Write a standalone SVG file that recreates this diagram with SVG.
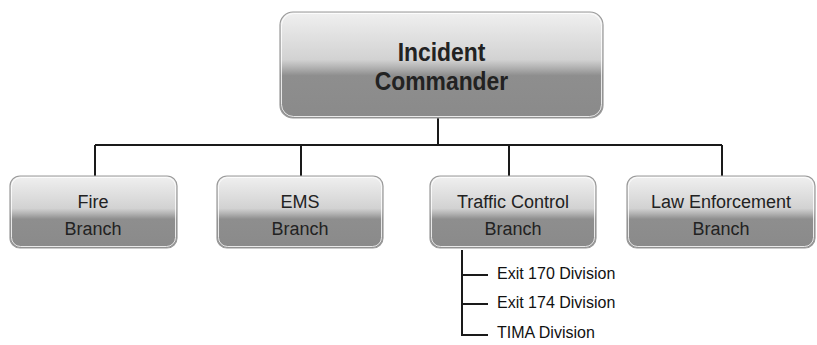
<svg xmlns="http://www.w3.org/2000/svg" width="817" height="345" viewBox="0 0 817 345">
<defs>
<linearGradient id="g" x1="0" y1="0" x2="0" y2="1">
<stop offset="0" stop-color="#f0f0f0"/>
<stop offset="0.45" stop-color="#d2d2d2"/>
<stop offset="0.52" stop-color="#b4b4b4"/>
<stop offset="0.6" stop-color="#8e8e8e"/>
<stop offset="1" stop-color="#8a8a8a"/>
</linearGradient>
<style>
.box{fill:url(#g);stroke:#9a9a9a;stroke-width:1.2}
.hl{fill:none;stroke:#ffffff;stroke-width:1;opacity:0.8}
.t{font-family:"Liberation Sans",Arial,sans-serif;font-size:18px;fill:#222;text-anchor:middle}
.tb{font-family:"Liberation Sans",Arial,sans-serif;font-size:26px;font-weight:bold;fill:#222;text-anchor:middle}
.d{font-family:"Liberation Sans",Arial,sans-serif;font-size:16px;fill:#111}
.ln{fill:none;stroke:#1a1a1a;stroke-width:2}
</style>
</defs>
<rect width="817" height="345" fill="#fff"/>
<g id="connectors">
<path class="ln" d="M438 118V145M95 145H722M95 145V177M301 145V177M509 145V177M722 145V177"/>
<path class="ln" d="M462 250V335H488M462 275H488M462 304H488"/>
</g>
<g id="incident-commander">
<rect class="box" x="280" y="12" width="323" height="106" rx="13"/>
<rect class="hl" x="281.5" y="13.5" width="320" height="103" rx="12"/>
<g transform="translate(441.5 0) scale(0.88 1)">
<text class="tb" x="0" y="61">Incident</text>
<text class="tb" x="0" y="90">Commander</text>
</g>
</g>
<g id="fire-branch">
<rect class="box" x="10" y="176" width="167" height="72" rx="10"/>
<rect class="hl" x="11.5" y="177.5" width="164" height="69" rx="9"/>
<text class="t" x="93" y="208">Fire</text>
<text class="t" x="93" y="235">Branch</text>
</g>
<g id="ems-branch">
<rect class="box" x="217" y="176" width="166" height="72" rx="10"/>
<rect class="hl" x="218.5" y="177.5" width="163" height="69" rx="9"/>
<text class="t" x="300" y="208">EMS</text>
<text class="t" x="300" y="235">Branch</text>
</g>
<g id="traffic-control-branch">
<rect class="box" x="430" y="176" width="166" height="72" rx="10"/>
<rect class="hl" x="431.5" y="177.5" width="163" height="69" rx="9"/>
<text class="t" x="513" y="208">Traffic Control</text>
<text class="t" x="513" y="235">Branch</text>
</g>
<g id="law-enforcement-branch">
<rect class="box" x="627" y="176" width="188" height="72" rx="10"/>
<rect class="hl" x="628.5" y="177.5" width="185" height="69" rx="9"/>
<text class="t" x="721" y="208">Law Enforcement</text>
<text class="t" x="721" y="235">Branch</text>
</g>
<g id="exit-170-division"><text class="d" x="497" y="279">Exit 170 Division</text></g>
<g id="exit-174-division"><text class="d" x="497" y="308">Exit 174 Division</text></g>
<g id="tima-division"><text class="d" x="497" y="338">TIMA Division</text></g>
</svg>
